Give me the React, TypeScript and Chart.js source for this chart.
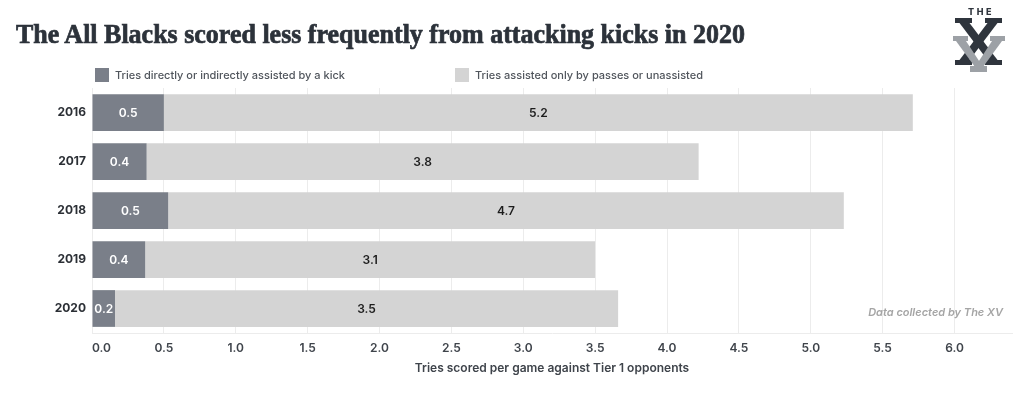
import React, { useEffect, useLayoutEffect, useRef } from "react";
import { Chart, registerables } from "chart.js";

Chart.register(...registerables);

const years = ["2016", "2017", "2018", "2019", "2020"];
const kickAssisted = [0.5, 0.38, 0.53, 0.37, 0.16];
const otherTries = [5.21, 3.84, 4.7, 3.13, 3.5];
const xTickValues = [0, 0.5, 1, 1.5, 2, 2.5, 3, 3.5, 4, 4.5, 5, 5.5, 6];
const xMax = 6.4;

const seriesNames = [
  "Tries directly or indirectly assisted by a kick",
  "Tries assisted only by passes or unassisted",
];
const seriesColors = ["#7a7f89", "#d4d4d4"];
const labelColors = ["#ffffff", "#1c1c1c"];

const SANS = "Inter, 'Noto Sans', sans-serif";

const valueLabels = {
  id: "valueLabels",
  afterDatasetsDraw(chart: any) {
    const ctx = chart.ctx;
    ctx.save();
    ctx.font = `600 12px ${SANS}`;
    ctx.textAlign = "center";
    ctx.textBaseline = "middle";
    chart.data.datasets.forEach((ds: any, i: number) => {
      const meta = chart.getDatasetMeta(i);
      meta.data.forEach((el: any, j: number) => {
        const { x, y } = el.getCenterPoint();
        ctx.fillStyle = labelColors[i];
        ctx.fillText(Number(ds.data[j]).toFixed(1), x, y + 0.5);
      });
    });
    ctx.restore();
  },
};

function Logo() {
  const dark = "#2f353d";
  const light = "#9da1a6";
  return (
    <svg
      width={66}
      height={76}
      viewBox="946 0 66 76"
      style={{ position: "absolute", left: 946, top: 0 }}
    >
      <text
        x={981}
        y={15}
        textAnchor="middle"
        fontFamily={SANS}
        fontWeight={800}
        fontSize={9}
        letterSpacing={2.5}
        fill={dark}
      >
        THE
      </text>
      <polygon points="958,21 968,21 999,62 989,62" fill={dark} />
      <polygon points="989,21 999,21 968,62 958,62" fill={dark} />
      <rect x={955} y={18} width={17} height={5} fill={dark} />
      <rect x={985} y={18} width={17} height={5} fill={dark} />
      <rect x={955} y={60} width={17} height={5} fill={dark} />
      <rect x={985} y={60} width={17} height={5} fill={dark} />
      <polygon points="956,41 966,41 983,67 975,67" fill={light} />
      <polygon points="992,41 1002,41 983,67 975,67" fill={light} />
      <rect x={953} y={36} width={15} height={5} fill={light} />
      <rect x={990} y={36} width={15} height={5} fill={light} />
      <rect x={970} y={66} width={17} height={6} fill={light} />
    </svg>
  );
}

export default function App() {
  const canvasRef = useRef<HTMLCanvasElement | null>(null);
  const titleRef = useRef<HTMLSpanElement | null>(null);

  useLayoutEffect(() => {
    const el = titleRef.current;
    if (!el) return;
    el.style.transform = "none";
    const w = el.getBoundingClientRect().width;
    if (w > 0) el.style.transform = `scaleX(${729 / w})`;
  }, []);

  useEffect(() => {
    if (!canvasRef.current) return;
    const chart = new Chart(canvasRef.current, {
      type: "bar",
      data: {
        labels: years,
        datasets: [
          {
            label: seriesNames[0],
            data: kickAssisted,
            backgroundColor: seriesColors[0],
            borderWidth: 0,
            categoryPercentage: 0.75,
            barPercentage: 1,
          },
          {
            label: seriesNames[1],
            data: otherTries,
            backgroundColor: seriesColors[1],
            borderWidth: 0,
            categoryPercentage: 0.75,
            barPercentage: 1,
          },
        ],
      },
      options: {
        indexAxis: "y",
        animation: false,
        responsive: false,
        devicePixelRatio: 1,
        layout: { padding: { top: 88, right: 12, bottom: 24, left: 0 } },
        plugins: {
          legend: { display: false },
          tooltip: { enabled: false },
        },
        scales: {
          x: {
            stacked: true,
            min: 0,
            max: xMax,
            afterBuildTicks: (scale: any) => {
              scale.ticks = [...xTickValues, xMax].map((v) => ({ value: v }));
            },
            afterFit: (scale: any) => {
              scale.height = 43;
            },
            grid: {
              drawTicks: false,
              color: (c: any) =>
                c.tick && c.tick.value > xTickValues[xTickValues.length - 1]
                  ? "rgba(0,0,0,0)"
                  : "#ececec",
            },
            border: { display: true, color: "#ececec" },
            ticks: {
              align: "inner",
              padding: 8,
              color: "#3f444b",
              font: { family: SANS, size: 12, weight: 600 },
              callback: (v: any) =>
                xTickValues.includes(Number(v)) ? Number(v).toFixed(1) : "",
            },
            title: {
              display: true,
              text: "Tries scored per game against Tier 1 opponents",
              color: "#3f444b",
              font: { family: SANS, size: 12, weight: 600 },
              padding: { top: 4, bottom: 0 },
            },
          },
          y: {
            stacked: true,
            afterFit: (scale: any) => {
              scale.width = 92;
            },
            grid: { display: false, drawTicks: false },
            border: { display: false },
            ticks: {
              padding: 6,
              color: "#2b2f35",
              font: { family: SANS, size: 12, weight: 700 },
            },
          },
        },
      },
      plugins: [valueLabels],
    });
    return () => chart.destroy();
  }, []);

  return (
    <div
      style={{
        position: "absolute",
        left: 0,
        top: 0,
        width: 1024,
        height: 400,
        overflow: "hidden",
        background: "#ffffff",
      }}
    >
      <canvas
        ref={canvasRef}
        width={1024}
        height={400}
        style={{ position: "absolute", left: 0, top: 0, width: 1024, height: 400 }}
      />
      <div
        style={{
          position: "absolute",
          left: 16,
          top: 21,
          whiteSpace: "nowrap",
          fontFamily: "'Liberation Serif', 'DejaVu Serif', serif",
          fontWeight: 700,
          fontSize: 27,
          lineHeight: "27px",
          color: "#2c323a",
          WebkitTextStroke: "0.7px #2c323a",
        }}
      >
        <span
          ref={titleRef}
          style={{ display: "inline-block", transformOrigin: "0 0" }}
        >
          The All Blacks scored less frequently from attacking kicks in 2020
        </span>
      </div>
      {seriesNames.map((name, i) => (
        <div
          key={name}
          style={{
            position: "absolute",
            left: i === 0 ? 95 : 455,
            top: 68,
            height: 14,
            display: "flex",
            alignItems: "center",
            whiteSpace: "nowrap",
            fontFamily: SANS,
            fontWeight: 500,
            fontSize: 11,
            color: "#50555c",
          }}
        >
          <span
            style={{
              display: "inline-block",
              width: 14,
              height: 14,
              background: seriesColors[i],
              marginRight: 6,
            }}
          />
          {name}
        </div>
      ))}
      <div
        style={{
          position: "absolute",
          right: 21,
          top: 305,
          whiteSpace: "nowrap",
          fontFamily: SANS,
          fontStyle: "italic",
          fontWeight: 600,
          fontSize: 11,
          lineHeight: "14px",
          color: "#a5a5a5",
        }}
      >
        Data collected by The XV
      </div>
      <Logo />
    </div>
  );
}
